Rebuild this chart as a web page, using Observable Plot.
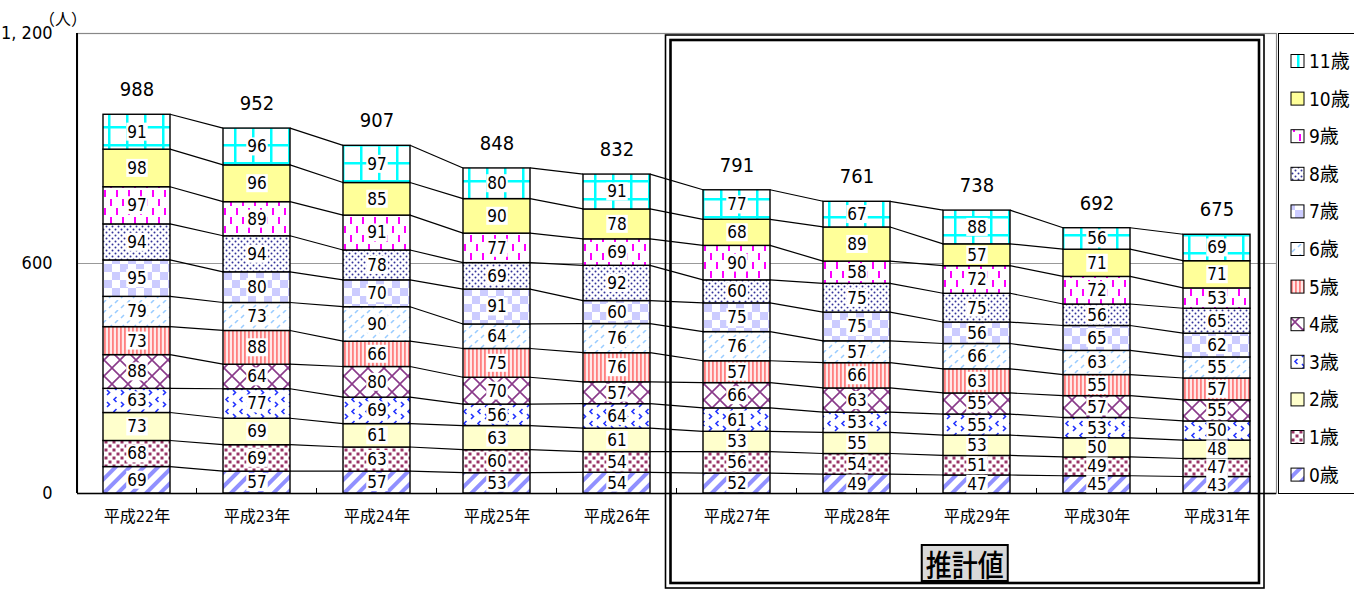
<!DOCTYPE html>
<html>
<head>
<meta charset="utf-8">
<script src="https://cdn.jsdelivr.net/npm/d3@7"></script>
<script src="https://cdn.jsdelivr.net/npm/@observablehq/plot@0.6"></script>
<style>
  body { margin: 0; background: #fff; }
  #wrap { position: relative; width: 1354px; height: 589px; overflow: hidden; background: #fff; }
  #legend { position: absolute; left: 1278px; top: 33px; width: 90px; height: 459px; border: 1px solid #000; background: #fff; }
</style>
</head>
<body>
<svg id="defs" width="0" height="0" style="position:absolute"></svg>
<div id="wrap"><div id="legend"></div></div>
<script>
const years = ["平成22年","平成23年","平成24年","平成25年","平成26年","平成27年","平成28年","平成29年","平成30年","平成31年"];
const ageLabels = ["0歳","1歳","2歳","3歳","4歳","5歳","6歳","7歳","8歳","9歳","10歳","11歳"];
const age0  = [69,57,57,53,54,52,49,47,45,43];
const age1  = [68,69,63,60,54,56,54,51,49,47];
const age2  = [73,69,61,63,61,53,55,53,50,48];
const age3  = [63,77,69,56,64,61,53,55,53,50];
const age4  = [88,64,80,70,57,66,63,55,57,55];
const age5  = [73,88,66,75,76,57,66,63,55,57];
const age6  = [79,73,90,64,76,76,57,66,63,55];
const age7  = [95,80,70,91,60,75,75,56,65,62];
const age8  = [94,94,78,69,92,60,75,75,56,65];
const age9  = [97,89,91,77,69,90,58,72,72,53];
const age10 = [98,96,85,90,78,68,89,57,71,71];
const age11 = [91,96,97,80,91,77,67,88,56,69];
const totals = [988,952,907,848,832,791,761,738,692,675];
const yTicks = [0,600,1200];
const estimateLabel = "推計値";
const estimateFirstYear = "平成27年";
const unitLabel = "（人）";

const series = [age0,age1,age2,age3,age4,age5,age6,age7,age8,age9,age10,age11];
const FONT = '"Liberation Sans Narrow","DejaVu Sans Condensed","Noto Sans CJK JP",sans-serif';

// ---- patterns ----
const defs = d3.select("#defs").append("defs");
function pat(id, w, h, bg, draw, transform) {
  const p = defs.append("pattern").attr("id", id).attr("patternUnits", "userSpaceOnUse")
    .attr("width", w).attr("height", h);
  if (transform) p.attr("patternTransform", transform);
  p.append("rect").attr("width", w).attr("height", h).attr("fill", bg);
  if (draw) draw(p);
}
pat("pat0", 10, 10, "#fff", p => p.append("rect").attr("x", 0).attr("width", 4).attr("height", 10).attr("fill", "#9090ff"), "rotate(45)");
pat("pat1", 8, 8, "#fff", p => {
  p.append("rect").attr("x", 0.5).attr("y", 0.5).attr("width", 3).attr("height", 3).attr("fill", "#993366");
  p.append("rect").attr("x", 4.5).attr("y", 4.5).attr("width", 3).attr("height", 3).attr("fill", "#993366");
});
pat("pat2", 4, 4, "#ffffcc");
pat("pat3", 14, 12, "#fff", p => {
  p.append("path").attr("d", "M4.5 1 L2 3.5 L4.5 6").attr("fill", "none").attr("stroke", "#2233ff").attr("stroke-width", 1.6);
  p.append("path").attr("d", "M9 6 L11.5 8.5 L9 11").attr("fill", "none").attr("stroke", "#2233ff").attr("stroke-width", 1.6);
});
pat("pat4", 16, 16, "#fff", p => {
  p.append("path").attr("d", "M0 0 L16 16 M16 0 L0 16").attr("stroke", "#8a3a8a").attr("stroke-width", 1.6);
});
pat("pat5", 4, 4, "#ffe8e8", p => p.append("rect").attr("x", 0).attr("width", 1.8).attr("height", 4).attr("fill", "#ff8080"));
pat("pat6", 12, 10, "#fff", p => {
  p.append("path").attr("d", "M1 8 L4 5 M7 3 L10 0").attr("stroke", "#99ccff").attr("stroke-width", 1.5);
});
pat("pat7", 16, 16, "#fff", p => {
  p.append("rect").attr("width", 8).attr("height", 8).attr("fill", "#ccccff");
  p.append("rect").attr("x", 8).attr("y", 8).attr("width", 8).attr("height", 8).attr("fill", "#ccccff");
});
pat("pat8", 6, 6, "#fff", p => {
  p.append("circle").attr("cx", 1.5).attr("cy", 1.5).attr("r", 1).attr("fill", "#333399");
  p.append("circle").attr("cx", 4.5).attr("cy", 4.5).attr("r", 1).attr("fill", "#333399");
});
pat("pat9", 12, 18, "#fff", p => {
  p.append("rect").attr("x", 2).attr("y", 1).attr("width", 2).attr("height", 7).attr("fill", "#ff00ff");
  p.append("rect").attr("x", 8).attr("y", 10).attr("width", 2).attr("height", 7).attr("fill", "#ff00ff");
});
pat("pat10", 4, 4, "#ffff99");
pat("pat11", 18, 18, "#fff", p => {
  p.append("rect").attr("x", 0).attr("y", 0).attr("width", 2.5).attr("height", 18).attr("fill", "#00ffff");
  p.append("rect").attr("x", 0).attr("y", 0).attr("width", 18).attr("height", 2.5).attr("fill", "#00ffff");
});

// ---- table ----
const table = [];
const cum = years.map(() => [0]);
years.forEach((yr, i) => {
  let acc = 0;
  series.forEach((s, k) => {
    const y1 = acc, y2 = acc + s[i];
    table.push({year: yr, k, age: ageLabels[k], value: s[i], y1, y2, ym: (y1 + y2) / 2, fill: `url(#pat${k})`});
    acc = y2;
    cum[i].push(acc);
  });
});
const totalRows = years.map((yr, i) => ({year: yr, total: totals[i]}));

const plot = Plot.plot({
  width: 1354,
  height: 589,
  marginLeft: 77,
  marginRight: 78,
  marginTop: 33,
  marginBottom: 96,
  style: {fontFamily: FONT, background: "transparent", color: "#000"},
  x: {domain: years, paddingInner: 0.44, paddingOuter: 0.215, label: null},
  y: {domain: [0, 1200], label: null},
  color: {type: "identity"},
  marks: [
    Plot.frame({stroke: "#888", strokeWidth: 1.2}),
    Plot.ruleY([600], {stroke: "#999", strokeWidth: 1}),
    Plot.barY(table, {x: "year", y1: "y1", y2: "y2", fill: "fill", stroke: "#000", strokeWidth: 1.4}),
    Plot.text(table, {x: "year", y: "ym", text: d => String(d.value), fontSize: 17, fill: "#000", ariaDescription: "seglabels"}),
    Plot.text(totalRows, {x: "year", y: "total", text: d => String(d.total), fontSize: 20, dy: -25, fill: "#000"}),
    Plot.ruleY([0], {stroke: "#000", strokeWidth: 1.5}),
    Plot.axisX({tickSize: 0, tickPadding: 17, fontSize: 16}),
    Plot.axisY({ticks: yTicks, tickSize: 0, tickPadding: 25, fontSize: 18,
      tickFormat: d => d3.format(",")(d).replace(",", ", ")})
  ]
});

const wrap = document.getElementById("wrap");
wrap.insertBefore(plot, wrap.firstChild);
const svg = d3.select(plot);

const xs = plot.scale("x"), ys = plot.scale("y");
const X = v => xs.apply(v), Y = v => ys.apply(v);
const bw = xs.bandwidth, step = xs.step, gap = step - bw;

// white boxes behind segment labels
svg.selectAll('g[aria-description="seglabels"] text').each(function() {
  const b = this.getBBox();
  const r = document.createElementNS("http://www.w3.org/2000/svg", "rect");
  r.setAttribute("x", b.x - 1); r.setAttribute("y", b.y + 1);
  r.setAttribute("width", b.width + 2); r.setAttribute("height", b.height - 2);
  r.setAttribute("fill", "#fff");
  const t = this.getAttribute("transform"); if (t) r.setAttribute("transform", t);
  this.parentNode.insertBefore(r, this);
});

const g = svg.append("g");
// connector lines
for (let i = 0; i < years.length - 1; i++) {
  for (let k = 1; k < cum[i].length; k++) {
    g.append("line")
      .attr("x1", X(years[i]) + bw).attr("y1", Y(cum[i][k]))
      .attr("x2", X(years[i + 1])).attr("y2", Y(cum[i + 1][k]))
      .attr("stroke", "#000").attr("stroke-width", 1.2);
  }
}
// category boundary ticks
for (let i = 0; i < years.length - 1; i++) {
  const x = X(years[i]) + bw + gap / 2;
  g.append("line").attr("x1", x).attr("x2", x).attr("y1", Y(0)).attr("y2", Y(0) - 5)
    .attr("stroke", "#000").attr("stroke-width", 1);
}
// left axis line
g.append("line").attr("x1", 77).attr("x2", 77).attr("y1", Y(1200)).attr("y2", Y(0))
  .attr("stroke", "#000").attr("stroke-width", 2);
// unit label
g.append("text").attr("x", 63).attr("y", 25).attr("text-anchor", "middle")
  .attr("font-size", 16).attr("font-family", '"Noto Sans CJK JP",sans-serif').text(unitLabel);

// estimate box
const i0 = years.indexOf(estimateFirstYear);
const bxL = X(years[i0]) - gap / 2 - 11;
const bxR = X(years[years.length - 1]) + bw + 14;
g.append("rect").attr("x", bxL).attr("y", 35).attr("width", bxR - bxL).attr("height", 553)
  .attr("fill", "none").attr("stroke", "#000").attr("stroke-width", 1.6);
g.append("rect").attr("x", bxL + 5).attr("y", 40).attr("width", bxR - bxL - 10).attr("height", 543)
  .attr("fill", "none").attr("stroke", "#000").attr("stroke-width", 2.6);
const cx = (bxL + bxR) / 2;
g.append("rect").attr("x", cx - 43).attr("y", 545).attr("width", 86).attr("height", 36)
  .attr("fill", "#d9d9d9").attr("stroke", "#000").attr("stroke-width", 2);
g.append("text").attr("x", cx).attr("y", 563).attr("text-anchor", "middle")
  .attr("dominant-baseline", "central")
  .attr("font-size", 26).attr("font-weight", 500)
  .attr("font-family", '"Noto Sans CJK JP",sans-serif')
  .attr("transform", `translate(${cx},563) scale(1,1.15) translate(${-cx},-563)`)
  .text(estimateLabel);

// legend
const lg = d3.select("#legend").append("svg").attr("width", 90).attr("height", 459)
  .style("font-family", FONT);
for (let j = 0; j < 12; j++) {
  const k = 11 - j;
  const cy = 27 + j * 37.6;
  lg.append("rect").attr("x", 12).attr("y", cy - 6.5).attr("width", 13).attr("height", 13)
    .attr("fill", `url(#pat${k})`).attr("stroke", "#000").attr("stroke-width", 1);
  lg.append("text").attr("x", 30).attr("y", cy).attr("dominant-baseline", "central")
    .attr("font-size", 19).text(ageLabels[k]);
}
</script>
</body>
</html>
